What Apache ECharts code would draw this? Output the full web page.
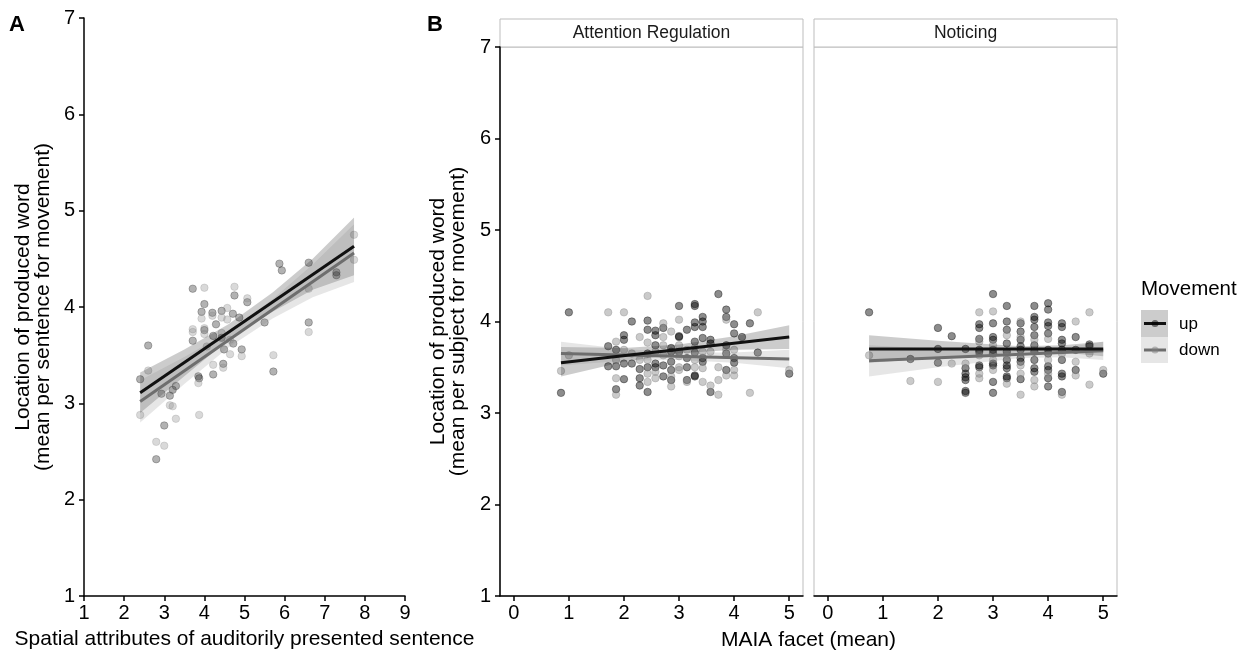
<!DOCTYPE html>
<html>
<head>
<meta charset="utf-8">
<script src="https://cdn.jsdelivr.net/npm/echarts@6.0.0/dist/echarts.min.js"></script>
<style>
  html, body { margin: 0; padding: 0; background: #fff; }
  #chart { width: 1247px; height: 657px; }
</style>
</head>
<body>
<div id="chart"></div>
<script>
// ---- panel A: sentence means ----
const aUpPts = [[5.87,4.45],[5.93,4.38],[6.60,4.46],[7.29,4.36],[7.29,4.33],[3.71,4.19],[4.75,4.12],[5.07,4.05],
  [4.00,4.03],[3.93,3.95],[4.20,3.94],[4.43,3.96],[4.71,3.93],[4.87,3.89],[4.29,3.82],[4.00,3.76],[4.22,3.70],
  [4.43,3.68],[3.71,3.65],[4.49,3.56],[4.72,3.62],[4.93,3.56],[5.50,3.84],[5.72,3.33],[6.60,3.84],[2.60,3.60],
  [2.40,3.25],[2.93,3.10],[3.14,3.08],[3.21,3.14],[3.29,3.18],[3.00,2.77],[2.80,2.42],[3.85,3.28],[3.87,3.26],
  [4.22,3.30],[4.47,3.41]];
const aDownPts = [[6.60,4.19],[7.73,4.49],[4.00,4.20],[4.75,4.21],[5.07,4.09],[3.93,3.88],[4.20,3.91],[4.57,3.99],
  [4.57,3.87],[4.43,3.89],[3.71,3.77],[3.71,3.74],[4.00,3.78],[4.00,3.72],[4.43,3.73],[4.06,3.59],[4.64,3.66],
  [4.93,3.49],[4.64,3.51],[5.72,3.50],[6.60,3.74],[2.60,3.34],[2.40,2.88],[3.14,2.98],[3.21,2.97],[3.29,2.84],
  [2.80,2.60],[3.00,2.56],[3.85,3.21],[3.87,2.88],[4.22,3.40],[4.47,3.37],[7.73,4.75]];
const aUpLine = [[2.40,3.11],[7.73,4.63]];
const aDownLine = [[2.40,3.02],[7.73,4.56]];
const aRibX = [2.40,3.50,4.60,5.70,6.70,7.73];
const aUpLo = [2.90,3.28,3.66,3.95,4.18,4.33];
const aUpHi = [3.32,3.56,3.82,4.15,4.50,4.93];
const aDownLo = [2.80,3.20,3.58,3.88,4.10,4.26];
const aDownHi = [3.24,3.48,3.74,4.08,4.44,4.86];

// ---- panel B, facet 1: Attention Regulation ----
const b1UpPts = [[0.857,3.22],[1,4.10],[1.714,3.73],[1.714,3.51],[1.857,3.69],[1.857,3.51],[1.857,3.26],[2,3.85],
  [2,3.80],[2,3.54],[2,3.37],[2.143,4.00],[2.143,3.54],[2.286,3.48],[2.286,3.38],[2.286,3.30],[2.429,4.01],
  [2.429,3.91],[2.429,3.65],[2.429,3.50],[2.429,3.23],[2.571,3.90],[2.571,3.85],[2.571,3.74],[2.571,3.54],
  [2.571,3.50],[2.714,3.93],[2.714,3.52],[2.714,3.40],[2.857,3.71],[2.857,3.67],[2.857,3.56],[2.857,3.47],
  [2.857,3.36],[3,4.17],[3,3.84],[3,3.83],[3,3.67],[3.143,3.91],[3.143,3.60],[3.143,3.50],[3.143,3.36],
  [3.286,4.19],[3.286,4.17],[3.286,3.99],[3.286,3.94],[3.286,3.78],[3.286,3.66],[3.286,3.41],[3.286,3.40],
  [3.429,4.05],[3.429,4.00],[3.429,3.94],[3.429,3.82],[3.429,3.60],[3.429,3.56],[3.571,3.80],[3.571,3.76],
  [3.571,3.23],[3.714,4.30],[3.857,4.13],[3.857,4.05],[3.857,3.74],[3.857,3.65],[3.857,3.47],[4,3.97],[4,3.87],
  [4,3.60],[4,3.55],[4.143,3.83],[4.286,3.98],[4.429,3.66],[5,3.43]];
const b1DownPts = [[0.857,3.46],[1,3.63],[1.714,4.10],[1.857,3.78],[1.857,3.58],[1.857,3.38],[1.857,3.20],[2,4.10],
  [2,3.69],[2.143,3.65],[2.286,3.83],[2.286,3.58],[2.429,4.28],[2.429,3.77],[2.429,3.58],[2.429,3.43],[2.429,3.34],
  [2.571,3.67],[2.571,3.45],[2.571,3.38],[2.714,3.98],[2.714,3.83],[2.714,3.74],[2.714,3.63],[2.857,3.89],
  [2.857,3.40],[2.857,3.29],[3,4.02],[3,3.74],[3,3.62],[3,3.50],[3,3.47],[3.143,3.69],[3.143,3.34],[3.286,3.71],
  [3.286,3.58],[3.286,3.50],[3.429,3.67],[3.429,3.49],[3.429,3.34],[3.571,3.67],[3.571,3.30],[3.714,3.50],
  [3.714,3.36],[3.714,3.20],[3.857,4.02],[3.857,3.69],[3.857,3.41],[4,3.69],[4,3.47],[4,3.41],[4.286,3.22],
  [4.429,4.10],[5,3.47]];
const b1UpLine = [[0.857,3.55],[5,3.83]];
const b1DownLine = [[0.857,3.65],[5,3.59]];
const b1RibX = [0.857,2.0,3.0,4.0,5.0];
const b1UpLo = [3.40,3.56,3.65,3.69,3.70];
const b1UpHi = [3.72,3.71,3.75,3.84,3.96];
const b1DownLo = [3.52,3.57,3.58,3.55,3.49];
const b1DownHi = [3.78,3.70,3.66,3.66,3.69];

// ---- panel B, facet 2: Noticing ----
const b2UpPts = [[0.75,4.10],[1.5,3.59],[2,3.93],[2,3.70],[2,3.55],[2.25,3.84],[2.5,3.70],[2.5,3.49],[2.5,3.43],
  [2.5,3.39],[2.5,3.36],[2.5,3.24],[2.5,3.22],[2.75,3.97],[2.75,3.93],[2.75,3.81],[2.75,3.69],[2.75,3.67],
  [2.75,3.52],[2.75,3.50],[3,4.30],[3,3.98],[3,3.83],[3,3.80],[3,3.69],[3,3.65],[3,3.54],[3,3.52],[3,3.34],
  [3,3.22],[3.25,4.17],[3.25,4.00],[3.25,3.91],[3.25,3.76],[3.25,3.67],[3.25,3.58],[3.25,3.52],[3.25,3.49],
  [3.25,3.40],[3.25,3.38],[3.5,3.98],[3.5,3.89],[3.5,3.80],[3.5,3.73],[3.5,3.69],[3.5,3.60],[3.5,3.56],[3.5,3.37],
  [3.75,4.17],[3.75,4.05],[3.75,4.02],[3.75,3.94],[3.75,3.85],[3.75,3.74],[3.75,3.67],[3.75,3.58],[3.75,3.49],
  [3.75,3.45],[4,4.20],[4,4.13],[4,3.99],[4,3.95],[4,3.87],[4,3.69],[4,3.65],[4,3.51],[4,3.47],[4,3.38],[4,3.29],
  [4.25,3.98],[4.25,3.94],[4.25,3.80],[4.25,3.76],[4.25,3.69],[4.25,3.58],[4.25,3.43],[4.25,3.40],[4.25,3.23],
  [4.5,3.83],[4.5,3.69],[4.5,3.47],[4.75,3.75],[4.75,3.73],[5,3.43]];
const b2DownPts = [[0.75,3.63],[1.5,3.35],[2,3.34],[2.25,3.54],[2.5,3.54],[2.75,4.10],[2.75,3.78],[2.75,3.63],
  [2.75,3.43],[2.75,3.38],[3,4.11],[3,3.74],[3,3.58],[3,3.47],[3.25,3.85],[3.25,3.63],[3.25,3.32],[3.5,4.00],
  [3.5,3.83],[3.5,3.52],[3.5,3.43],[3.5,3.20],[3.75,3.80],[3.75,3.36],[3.75,3.29],[4,3.81],[4,3.58],[4,3.43],
  [4.25,3.65],[4.25,3.20],[4.5,4.00],[4.5,3.56],[4.5,3.41],[4.75,4.10],[4.75,3.65],[4.75,3.31],[5,3.47]];
const b2UpLine = [[0.75,3.70],[5,3.70]];
const b2DownLine = [[0.75,3.57],[5,3.68]];
const b2RibX = [0.75,2.0,3.5,4.25,5.0];
const b2UpLo = [3.55,3.60,3.66,3.66,3.62];
const b2UpHi = [3.85,3.79,3.73,3.74,3.78];
const b2DownLo = [3.40,3.50,3.60,3.61,3.58];
const b2DownHi = [3.74,3.70,3.68,3.71,3.78];

const xTicksB = [0, 1, 2, 3, 4, 5];
const facetNames = ['Attention Regulation', 'Noticing'];

const FONT = "'Liberation Sans', Arial, sans-serif";
const UP = '#111111', DOWN = '#6e6e6e';
const UP_FILL = 'rgba(0,0,0,0.2)', DOWN_FILL = 'rgba(128,128,128,0.2)';

var chart = echarts.init(document.getElementById('chart'));

function ribbon(idx, xs, lo, hi, fill) {
  return {
    type: 'custom', xAxisIndex: idx, yAxisIndex: idx, z: 3, silent: true,
    data: [[xs[0], lo[0]]],
    renderItem: function (params, api) {
      var pts = [];
      for (var i = 0; i < xs.length; i++) pts.push(api.coord([xs[i], hi[i]]));
      for (var j = xs.length - 1; j >= 0; j--) pts.push(api.coord([xs[j], lo[j]]));
      return { type: 'polygon', shape: { points: pts }, style: { fill: fill } };
    }
  };
}
function pts(idx, data, rgb, alpha) {
  var c = 'rgba(' + rgb + ',' + alpha + ')';
  return {
    type: 'scatter', xAxisIndex: idx, yAxisIndex: idx, z: 2, silent: true,
    symbolSize: 7.5, data: data,
    itemStyle: { color: c, borderColor: c, borderWidth: 0.8, opacity: 1 }
  };
}
function fit(idx, data, color) {
  return {
    type: 'line', xAxisIndex: idx, yAxisIndex: idx, z: 4, silent: true,
    data: data, showSymbol: false, lineStyle: { color: color, width: 3 }
  };
}

var tickLbl = { color: '#000', fontSize: 20, fontFamily: FONT };
var blackLine = { show: true, onZero: false, lineStyle: { color: '#000', width: 1.5 } };
var ticks = { show: true, length: 5, lineStyle: { color: '#000', width: 1.5 } };
var nameStyle = { color: '#000', fontSize: 21, fontFamily: FONT, lineHeight: 20 };

var option = {
  animation: false,
  grid: [
    { left: 84, top: 18, width: 321, height: 578 },
    { left: 500, top: 47, width: 303, height: 549, show: true, borderColor: '#bdbdbd', borderWidth: 1, backgroundColor: 'transparent' },
    { left: 814, top: 47, width: 303, height: 549, show: true, borderColor: '#bdbdbd', borderWidth: 1, backgroundColor: 'transparent' }
  ],
  xAxis: [
    { gridIndex: 0, type: 'value', min: 1, max: 9, interval: 1, axisLine: blackLine, axisTick: ticks,
      axisLabel: Object.assign({ margin: 7 }, tickLbl), splitLine: { show: false },
      name: 'Spatial attributes of auditorily presented sentence', nameLocation: 'middle', nameGap: 33, nameTextStyle: nameStyle },
    { gridIndex: 1, type: 'value', min: -0.25, max: 5.25, axisLine: blackLine,
      axisTick: Object.assign({ customValues: xTicksB }, ticks),
      axisLabel: Object.assign({ margin: 7, customValues: xTicksB }, tickLbl), splitLine: { show: false } },
    { gridIndex: 2, type: 'value', min: -0.25, max: 5.25, axisLine: blackLine,
      axisTick: Object.assign({ customValues: xTicksB }, ticks),
      axisLabel: Object.assign({ margin: 7, customValues: xTicksB }, tickLbl), splitLine: { show: false } }
  ],
  yAxis: [
    { gridIndex: 0, type: 'value', min: 1, max: 7, interval: 1, axisLine: blackLine, axisTick: ticks,
      axisLabel: Object.assign({ margin: 9 }, tickLbl), splitLine: { show: false },
      name: 'Location of produced word\n(mean per sentence for movement)', nameLocation: 'middle', nameGap: 31, nameTextStyle: nameStyle },
    { gridIndex: 1, type: 'value', min: 1, max: 7, interval: 1, axisLine: blackLine, axisTick: ticks,
      axisLabel: Object.assign({ margin: 9 }, tickLbl), splitLine: { show: false },
      name: 'Location of produced word\n(mean per subject for movement)', nameLocation: 'middle', nameGap: 32, nameTextStyle: nameStyle },
    { gridIndex: 2, type: 'value', min: 1, max: 7, interval: 1, axisLine: { show: false }, axisTick: { show: false },
      axisLabel: { show: false }, splitLine: { show: false } }
  ],
  series: [
    pts(0, aUpPts, '0,0,0', 0.3), pts(0, aDownPts, '128,128,128', 0.3),
    ribbon(0, aRibX, aUpLo, aUpHi, UP_FILL), ribbon(0, aRibX, aDownLo, aDownHi, DOWN_FILL),
    fit(0, aDownLine, DOWN), fit(0, aUpLine, UP),

    pts(1, b1UpPts, '0,0,0', 0.45), pts(1, b1DownPts, '128,128,128', 0.42),
    ribbon(1, b1RibX, b1UpLo, b1UpHi, UP_FILL), ribbon(1, b1RibX, b1DownLo, b1DownHi, DOWN_FILL),
    fit(1, b1DownLine, DOWN), fit(1, b1UpLine, UP),

    pts(2, b2UpPts, '0,0,0', 0.45), pts(2, b2DownPts, '128,128,128', 0.42),
    ribbon(2, b2RibX, b2UpLo, b2UpHi, UP_FILL), ribbon(2, b2RibX, b2DownLo, b2DownHi, DOWN_FILL),
    fit(2, b2DownLine, DOWN), fit(2, b2UpLine, UP)
  ],
  graphic: [
    // panel letters
    { type: 'text', left: 9, top: 14, style: { text: 'A', font: 'bold 22px ' + FONT, fill: '#000' } },
    { type: 'text', left: 427, top: 14, style: { text: 'B', font: 'bold 22px ' + FONT, fill: '#000' } },
    // facet strips
    { type: 'rect', shape: { x: 500, y: 19, width: 303, height: 28 }, style: { fill: '#fff', stroke: '#bdbdbd', lineWidth: 1 } },
    { type: 'rect', shape: { x: 814, y: 19, width: 303, height: 28 }, style: { fill: '#fff', stroke: '#bdbdbd', lineWidth: 1 } },
    { type: 'text', x: 651.5, y: 33, style: { text: facetNames[0], font: '17.5px ' + FONT, fill: '#1a1a1a', textAlign: 'center', textVerticalAlign: 'middle' } },
    { type: 'text', x: 965.5, y: 33, style: { text: facetNames[1], font: '17.5px ' + FONT, fill: '#1a1a1a', textAlign: 'center', textVerticalAlign: 'middle' } },
    // panel B x title
    { type: 'text', x: 808.5, y: 640, style: { text: 'MAIA facet (mean)', font: '21px ' + FONT, fill: '#000', textAlign: 'center', textVerticalAlign: 'middle' } },
    // legend
    { type: 'text', x: 1141, y: 289, style: { text: 'Movement', font: '20.5px ' + FONT, fill: '#000', textVerticalAlign: 'middle' } },
    { type: 'rect', shape: { x: 1141, y: 310, width: 27, height: 27 }, style: { fill: UP_FILL } },
    { type: 'rect', shape: { x: 1141, y: 337, width: 27, height: 26 }, style: { fill: DOWN_FILL } },
    { type: 'line', shape: { x1: 1144, y1: 323.5, x2: 1166, y2: 323.5 }, style: { stroke: UP, lineWidth: 3 } },
    { type: 'circle', shape: { cx: 1155, cy: 323.5, r: 3.5 }, style: { fill: 'rgba(0,0,0,0.5)' } },
    { type: 'line', shape: { x1: 1144, y1: 350, x2: 1166, y2: 350 }, style: { stroke: DOWN, lineWidth: 3 } },
    { type: 'circle', shape: { cx: 1155, cy: 350, r: 3.5 }, style: { fill: 'rgba(128,128,128,0.5)' } },
    { type: 'text', x: 1179, y: 324, style: { text: 'up', font: '17px ' + FONT, fill: '#000', textVerticalAlign: 'middle' } },
    { type: 'text', x: 1179, y: 350, style: { text: 'down', font: '17px ' + FONT, fill: '#000', textVerticalAlign: 'middle' } }
  ]
};
chart.setOption(option);
</script>
</body>
</html>
